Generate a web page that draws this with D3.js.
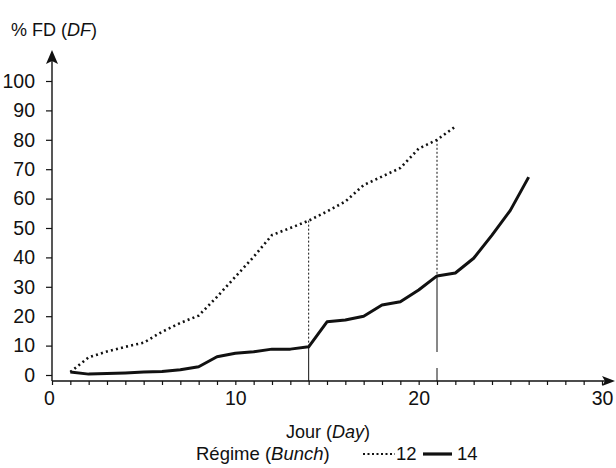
<!DOCTYPE html>
<html>
<head>
<meta charset="utf-8">
<script src="https://cdn.jsdelivr.net/npm/d3@7"></script>
<style>
  body { margin: 0; background: #fff; }
  svg text { font-family: "Liberation Sans", Arial, sans-serif; fill: #111; }
  svg .tick text { font-family: "Liberation Sans Narrow", "Arial Narrow", "Liberation Sans", Arial, sans-serif; }
</style>
</head>
<body>
<svg id="chart" width="616" height="468"></svg>
<script>
// Data
const days12 = [1, 2, 3, 4, 5, 6, 7, 8, 9, 10, 11, 12, 13, 14, 15, 16, 17, 18, 19, 20, 21, 22];
const values12 = [1, 6, 8, 9.6, 11, 14.7, 17.7, 20.2, 26.6, 33.4, 40.2, 47.6, 50, 52.5, 55.6, 59, 64.6, 67.5, 70.4, 77, 80, 84.5];
const days14 = [1, 2, 3, 4, 5, 6, 7, 8, 9, 10, 11, 12, 13, 14, 15, 16, 17, 18, 19, 20, 21, 22, 23, 24, 25, 26];
const values14 = [1, 0.3, 0.5, 0.7, 1, 1.2, 1.8, 2.8, 6.2, 7.4, 7.9, 8.8, 8.8, 9.6, 18.1, 18.7, 20, 23.8, 24.9, 28.9, 33.7, 34.7, 39.7, 47.6, 56, 67.3];
const markerDays = [14, 21];
const yTicks = [0, 10, 20, 30, 40, 50, 60, 70, 80, 90, 100];
const xTicks = d3.range(0, 31);

const svg = d3.select("#chart");

const x = d3.scaleLinear().domain([0, 30]).range([52, 602]);
const y = d3.scaleLinear().domain([0, 100]).range([375, 81]);
const axisY = 381;

// Axes lines with arrows
svg.append("line")
  .attr("x1", x(0)).attr("x2", 606)
  .attr("y1", axisY).attr("y2", axisY)
  .attr("stroke", "#111").attr("stroke-width", 1.6);
svg.append("path")
  .attr("d", `M615,${axisY} L602,${axisY - 5} L605,${axisY} L602,${axisY + 5} Z`)
  .attr("fill", "#111");

svg.append("line")
  .attr("x1", x(0)).attr("x2", x(0))
  .attr("y1", axisY).attr("y2", 60)
  .attr("stroke", "#111").attr("stroke-width", 1.4);
svg.append("path")
  .attr("d", `M${x(0)},50 L${x(0) - 6},64 L${x(0)},61 L${x(0) + 6},64 Z`)
  .attr("fill", "#111");

// Y axis ticks
const yAxis = d3.axisLeft(y).tickValues(yTicks).tickSize(6).tickPadding(11);
const gy = svg.append("g").attr("transform", `translate(${x(0)},0)`).call(yAxis);
gy.select(".domain").remove();
gy.selectAll("line").attr("stroke", "#111").attr("stroke-width", 1.2);
gy.selectAll("text").attr("font-size", 19.5).attr("fill", "#111").attr("font-family", null);

// X axis ticks
const xAxis = d3.axisBottom(x).tickValues(xTicks).tickSize(4).tickPadding(6)
  .tickFormat(d => d % 10 === 0 ? d : "");
const gx = svg.append("g").attr("transform", `translate(0,${axisY})`).call(xAxis);
gx.select(".domain").remove();
gx.selectAll("line").attr("stroke", "#111").attr("stroke-width", 1.2);
gx.selectAll("text").attr("font-size", 19.5).attr("fill", "#111").attr("font-family", null)
  .attr("dx", d => d === 0 ? -3 : 0);

// Vertical marker lines
const v12 = d => values12[days12.indexOf(d)];
const v14 = d => values14[days14.indexOf(d)];
markerDays.forEach((d, i) => {
  svg.append("line")
    .attr("x1", x(d)).attr("x2", x(d))
    .attr("y1", y(v12(d))).attr("y2", y(v14(d)))
    .attr("stroke", "#111").attr("stroke-width", 1)
    .attr("stroke-dasharray", "2,2");
  const solid = svg.append("line")
    .attr("x1", x(d)).attr("x2", x(d))
    .attr("y1", y(v14(d))).attr("y2", axisY)
    .attr("stroke", "#111").attr("stroke-width", 1);
  if (i === 1) {
    const len = axisY - y(v14(d));
    solid.attr("stroke-dasharray", `${len - 29},16,13`);
  }
});

// Series lines
const line = d3.line().x(d => x(d[0])).y(d => y(d[1]));

svg.append("path")
  .datum(d3.zip(days12, values12))
  .attr("d", line)
  .attr("fill", "none")
  .attr("stroke", "#111")
  .attr("stroke-width", 2.6)
  .attr("stroke-dasharray", "2,3.2");

svg.append("path")
  .datum(d3.zip(days14, values14))
  .attr("d", line)
  .attr("fill", "none")
  .attr("stroke", "#111")
  .attr("stroke-width", 3)
  .attr("stroke-linejoin", "round");

// Y title
const yt = svg.append("text").attr("x", 11).attr("y", 36).attr("font-size", 18);
yt.append("tspan").text("% FD (");
yt.append("tspan").attr("font-style", "italic").text("DF");
yt.append("tspan").text(")");

// X title
const xt = svg.append("text").attr("x", 328).attr("y", 438)
  .attr("font-size", 18).attr("text-anchor", "middle");
xt.append("tspan").text("Jour (");
xt.append("tspan").attr("font-style", "italic").text("Day");
xt.append("tspan").text(")");

// Legend
const lt = svg.append("text").attr("x", 196).attr("y", 460).attr("font-size", 18.5);
lt.append("tspan").text("Régime (");
lt.append("tspan").attr("font-style", "italic").text("Bunch");
lt.append("tspan").text(")");

svg.append("line").attr("x1", 363).attr("x2", 395).attr("y1", 454).attr("y2", 454)
  .attr("stroke", "#111").attr("stroke-width", 2).attr("stroke-dasharray", "2,2.5");
svg.append("text").attr("x", 396).attr("y", 460).attr("font-size", 18.5).text("12");
svg.append("line").attr("x1", 423).attr("x2", 452).attr("y1", 454).attr("y2", 454)
  .attr("stroke", "#111").attr("stroke-width", 3.2);
svg.append("text").attr("x", 457).attr("y", 460).attr("font-size", 18.5).text("14");
</script>
</body>
</html>
